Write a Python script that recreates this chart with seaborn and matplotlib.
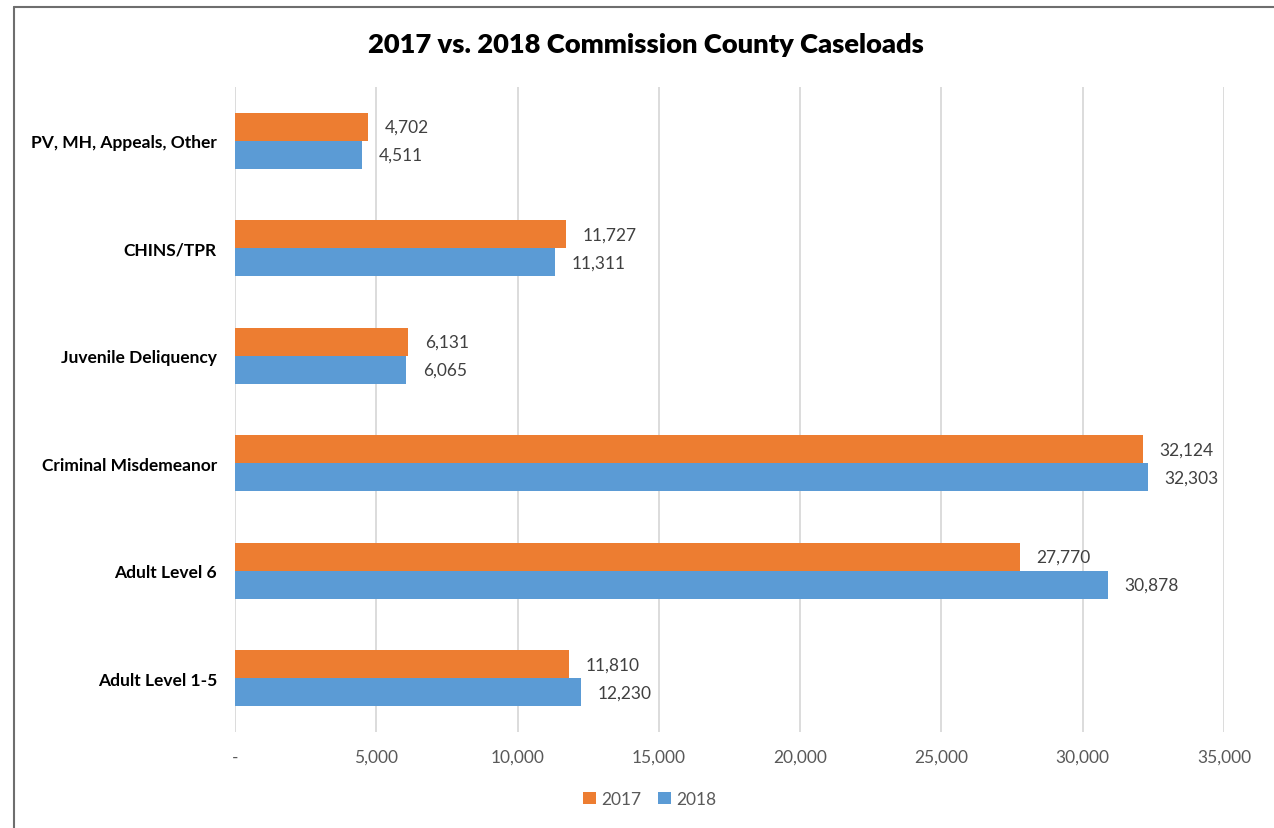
import matplotlib
matplotlib.use("Agg")
import matplotlib.pyplot as plt
import seaborn as sns
import pandas as pd
from matplotlib.patches import Patch
from matplotlib.lines import Line2D
from matplotlib.ticker import FuncFormatter

categories = ["PV, MH, Appeals, Other", "CHINS/TPR", "Juvenile Deliquency",
              "Criminal Misdemeanor", "Adult Level 6", "Adult Level 1-5"]
values_2017 = [4702, 11727, 6131, 32124, 27770, 11810]
values_2018 = [4511, 11311, 6065, 32303, 30878, 12230]
series = ["2017", "2018"]
colors = {"2017": "#ED7D31", "2018": "#5B9BD5"}
x_ticks = [0, 5000, 10000, 15000, 20000, 25000, 30000, 35000]

df = pd.DataFrame({
    "Category": categories * 2,
    "Year": ["2017"] * len(categories) + ["2018"] * len(categories),
    "Cases": values_2017 + values_2018,
})

sns.set_theme(style="white")
plt.rcParams["font.family"] = ["Lato", "DejaVu Sans"]

fig = plt.figure(figsize=(12.74, 8.29), dpi=100)
ax = fig.add_axes([235/1274, 1-733/829, (1224-235)/1274, (733-88)/829])

sns.barplot(data=df, y="Category", x="Cases", hue="Year", order=categories,
            hue_order=series, palette=colors, orient="h", width=0.52, gap=0,
            dodge=True, ax=ax, legend=False, saturation=1, edgecolor="none", zorder=3)

ax.set_xlim(0, 35000)
ax.set_xticks(x_ticks)
ax.xaxis.set_major_formatter(FuncFormatter(lambda v, p: "-" if v == 0 else f"{int(v):,}"))
ax.grid(axis="x", color="#D9D9D9", linewidth=1.3, zorder=0)
ax.grid(axis="y", visible=False)
ax.set_axisbelow(True)
for s in ax.spines.values():
    s.set_visible(False)
ax.set_xlabel("")
ax.set_ylabel("")
ax.tick_params(axis="x", length=0, pad=12, labelsize=12.5, labelcolor="#595959")
ax.tick_params(axis="y", length=0, pad=13, labelsize=12.5)
for lab in ax.get_yticklabels():
    lab.set_fontweight("bold")
    lab.set_color("black")

for cont in ax.containers:
    ax.bar_label(cont, labels=[f"{int(w):,}" for w in cont.datavalues],
                 padding=12, fontsize=12.5, color="#404040")

fig.text(0.507, 1-45/829, "2017 vs. 2018 Commission County Caseloads",
         ha="center", va="center", fontsize=19.6, fontweight="heavy", color="black")

handles = [Patch(facecolor=colors[s], edgecolor="none", label=s) for s in series]
leg = fig.legend(handles=handles, loc="center", bbox_to_anchor=(0.51, 1-800/829),
                 ncol=2, frameon=False, handlelength=0.75, handleheight=0.75,
                 handletextpad=0.3, columnspacing=1.0, fontsize=12.5)
for t in leg.get_texts():
    t.set_color("#595959")

fig.add_artist(Line2D([14/1274, 14/1274], [0, 1-8/829], transform=fig.transFigure,
                      color="#6E6E6E", linewidth=1.5))
fig.add_artist(Line2D([14/1274, 1], [1-8/829, 1-8/829], transform=fig.transFigure,
                      color="#6E6E6E", linewidth=1.5))

fig.savefig("out.png", dpi=100)
